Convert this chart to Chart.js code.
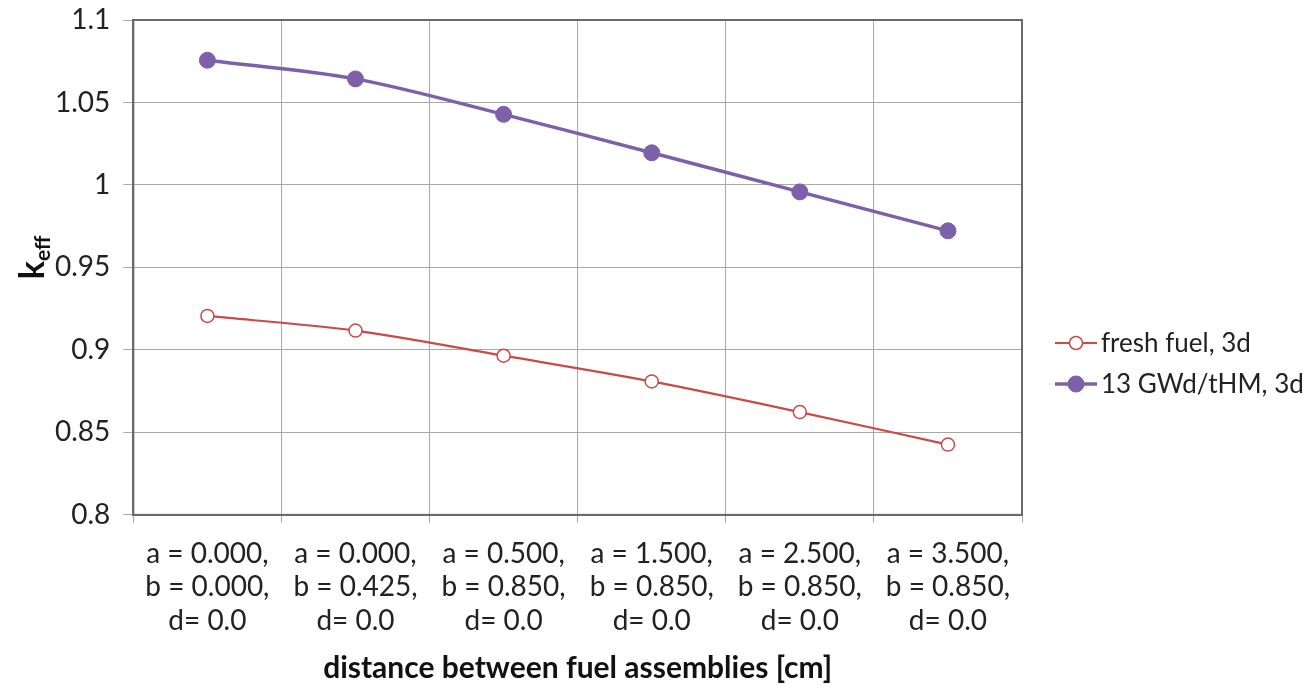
<!DOCTYPE html>
<html>
<head>
<meta charset="utf-8">
<script src="https://cdn.jsdelivr.net/npm/chart.js@4"></script>
<style>
    body { margin: 0; background: #fff; }
    canvas { display: block; }
</style>
</head>
<body>
<canvas id="keffChart" width="1311" height="698"></canvas>
<script>
// x categories (Excel style multi-line labels)
const categories = [
    ['a = 0.000,', 'b = 0.000,', 'd= 0.0'],
    ['a = 0.000,', 'b = 0.425,', 'd= 0.0'],
    ['a = 0.500,', 'b = 0.850,', 'd= 0.0'],
    ['a = 1.500,', 'b = 0.850,', 'd= 0.0'],
    ['a = 2.500,', 'b = 0.850,', 'd= 0.0'],
    ['a = 3.500,', 'b = 0.850,', 'd= 0.0']
];
const freshFuel = [0.9206, 0.9117, 0.8965, 0.8809, 0.8623, 0.8426];
const burnedFuel = [1.0756, 1.0643, 1.0428, 1.0195, 0.9958, 0.9722];
const seriesNames = ['fresh fuel, 3d', '13 GWd/tHM, 3d'];
const yMin = 0.8, yMax = 1.1, yStep = 0.05;

const FONT = 'Lato, "Open Sans", sans-serif';
const RED = '#C94A47';
const PURPLE = '#7D60AA';

// frame around the plot area
const framePlugin = {
    id: 'frame',
    beforeDatasetsDraw(chart) {
        const a = chart.chartArea, ctx = chart.ctx;
        ctx.save();
        ctx.strokeStyle = '#6a6a6a';
        ctx.lineWidth = 2;
        ctx.strokeRect(a.left, a.top, a.right - a.left, a.bottom - a.top);
        ctx.restore();
    }
};

// k_eff title with subscript
const yTitlePlugin = {
    id: 'yTitle',
    afterDraw(chart) {
        const ctx = chart.ctx;
        const cy = (chart.chartArea.top + chart.chartArea.bottom) / 2 - 10;
        ctx.save();
        ctx.translate(33, cy);
        ctx.rotate(-Math.PI / 2);
        ctx.fillStyle = '#111';
        ctx.textBaseline = 'alphabetic';
        ctx.font = 'bold 34px ' + FONT;
        const kw = ctx.measureText('k').width;
        ctx.font = 'bold 21px ' + FONT;
        const ew = ctx.measureText('eff').width;
        const x0 = -(kw + ew) / 2;
        ctx.font = 'bold 34px ' + FONT;
        ctx.fillText('k', x0, 11);
        ctx.font = 'bold 21px ' + FONT;
        ctx.fillText('eff', x0 + kw, 17);
        ctx.restore();
    }
};

// legend with line + marker symbols
const legendPlugin = {
    id: 'lineLegend',
    afterDraw(chart) {
        const ctx = chart.ctx;
        const x = chart.chartArea.right + 33;
        const rows = [343, 384];
        ctx.save();
        chart.data.datasets.forEach((ds, i) => {
            const y = rows[i];
            ctx.strokeStyle = ds.borderColor;
            ctx.lineWidth = ds.borderWidth;
            ctx.beginPath();
            ctx.moveTo(x, y);
            ctx.lineTo(x + 42, y);
            ctx.stroke();
            ctx.beginPath();
            ctx.arc(x + 21, y, ds.pointRadius, 0, Math.PI * 2);
            ctx.fillStyle = ds.pointBackgroundColor;
            ctx.fill();
            ctx.lineWidth = ds.pointBorderWidth;
            ctx.strokeStyle = ds.pointBorderColor;
            ctx.stroke();
            ctx.fillStyle = '#222';
            ctx.font = '26px ' + FONT;
            ctx.textBaseline = 'middle';
            ctx.fillText(ds.label, x + 46, y + 1);
        });
        ctx.restore();
    }
};

const ctx = document.getElementById('keffChart').getContext('2d');
new Chart(ctx, {
    type: 'line',
    data: {
        labels: categories,
        datasets: [{
            label: seriesNames[0],
            data: freshFuel,
            borderColor: RED,
            borderWidth: 2.2,
            pointRadius: 6.5,
            pointBorderWidth: 1.5,
            pointBorderColor: RED,
            pointBackgroundColor: '#fff',
            tension: 0.3
        }, {
            label: seriesNames[1],
            data: burnedFuel,
            borderColor: PURPLE,
            borderWidth: 3.5,
            pointRadius: 8,
            pointBorderWidth: 1,
            pointBorderColor: PURPLE,
            pointBackgroundColor: PURPLE,
            tension: 0.3
        }]
    },
    options: {
        responsive: false,
        animation: false,
        devicePixelRatio: 1,
        layout: {
            padding: { left: 42, right: 289, top: 20, bottom: 9 }
        },
        plugins: {
            legend: { display: false },
            tooltip: { enabled: false }
        },
        scales: {
            x: {
                type: 'category',
                offset: true,
                grid: {
                    offset: true,
                    color: '#a8a8a8',
                    lineWidth: 1,
                    tickLength: 8
                },
                border: { color: '#6a6a6a', width: 2 },
                ticks: {
                    autoSkip: false,
                    maxRotation: 0,
                    padding: 15,
                    color: '#222',
                    font: { family: FONT, size: 28, lineHeight: 1.18 }
                },
                title: {
                    display: true,
                    text: 'distance between fuel assemblies [cm]',
                    color: '#111',
                    font: { family: FONT, size: 30, weight: 'bold', lineHeight: 1.1 },
                    padding: { top: 0, bottom: 4 }
                }
            },
            y: {
                min: yMin,
                max: yMax,
                afterFit: scale => { scale.paddingTop = 0; },
                grid: {
                    color: '#a8a8a8',
                    lineWidth: 1,
                    tickLength: 10
                },
                border: { color: '#6a6a6a', width: 2 },
                ticks: {
                    stepSize: yStep,
                    padding: 13,
                    color: '#222',
                    font: { family: FONT, size: 28 },
                    callback: v => String(parseFloat(v.toFixed(2)))
                }
            }
        }
    },
    plugins: [framePlugin, yTitlePlugin, legendPlugin]
});
</script>
</body>
</html>
